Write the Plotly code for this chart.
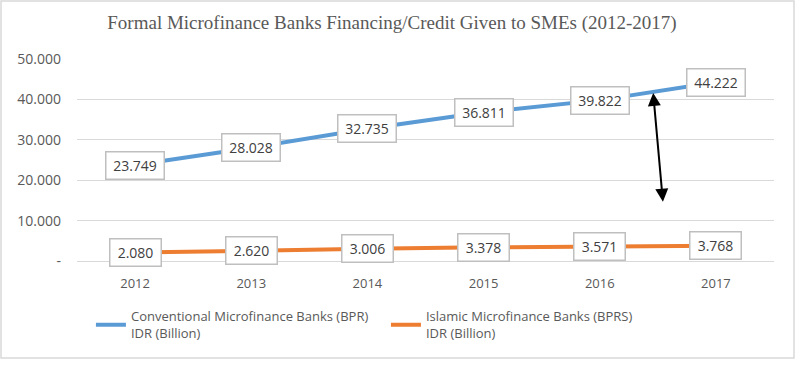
import plotly.graph_objects as go

years = ["2012", "2013", "2014", "2015", "2016", "2017"]
bpr = [23749, 28028, 32735, 36811, 39822, 44222]
bprs = [2080, 2620, 3006, 3378, 3571, 3768]
y_ticks = [0, 10000, 20000, 30000, 40000, 50000]
y_tick_text = ["-", "10.000", "20.000", "30.000", "40.000", "50.000"]
series_names = ["Conventional Microfinance Banks (BPR)<br>IDR (Billion)",
                "Islamic Microfinance Banks (BPRS)<br>IDR (Billion)"]
title = "Formal Microfinance Banks Financing/Credit Given to SMEs (2012-2017)"

xi = list(range(len(years)))

def fmt(v):
    return f"{v:,}".replace(",", ".")

fig = go.Figure()
fig.add_trace(go.Scatter(x=xi, y=bpr, mode="lines", name=series_names[0],
                         line=dict(color="#5B9BD5", width=4)))
fig.add_trace(go.Scatter(x=xi, y=bprs, mode="lines", name=series_names[1],
                         line=dict(color="#ED7D31", width=4)))

annots = []
for series in (bpr, bprs):
    for x, v in zip(xi, series):
        t = fmt(v)
        annots.append(dict(x=x, y=v, xref="x", yref="y", text=t, showarrow=False,
                           width=7 * len(t) + 9, height=20,
                           font=dict(family="Open Sans, Liberation Sans", size=14, color="#404040"),
                           bgcolor="white", bordercolor="#BFBFBF", borderwidth=1.5, borderpad=3))

# double-headed arrow between the two series
annots.append(dict(x=4.46, y=41600, ax=4.545, ay=14300, xref="x", yref="y", axref="x", ayref="y",
                   text="", showarrow=True, arrowhead=2, startarrowhead=2, arrowside="end+start",
                   arrowwidth=2, arrowsize=1.3, startarrowsize=1.3, arrowcolor="black"))

fig.update_layout(
    width=800, height=367,
    margin=dict(l=77, r=26, t=59, b=106),
    paper_bgcolor="white", plot_bgcolor="white",
    title=dict(text=title, x=0.49, xanchor="center", y=0.94, yanchor="middle",
               font=dict(family="Liberation Serif, Times New Roman", size=19, color="#595959")),
    xaxis=dict(range=[-0.5, 5.5], tickvals=xi, ticktext=years, showgrid=False, zeroline=False,
               showline=True, linecolor="#D9D9D9", linewidth=1, ticks="",
               ticklabelstandoff=10,
               tickfont=dict(family="Open Sans, Liberation Sans", size=13, color="#595959")),
    yaxis=dict(range=[0, 50000], tickvals=y_ticks, ticktext=y_tick_text, showgrid=True,
               gridcolor="#D9D9D9", gridwidth=1, zeroline=False, showline=False, ticks="",
               ticklabelstandoff=15,
               tickfont=dict(family="Open Sans, Liberation Sans", size=14, color="#595959")),
    showlegend=True,
    legend=dict(orientation="h", x=0.02, y=-0.2, xanchor="left", yanchor="top",
                entrywidth=250, entrywidthmode="pixels",
                font=dict(family="Open Sans, Liberation Sans", size=13, color="#595959")),
    annotations=annots,
    shapes=[dict(type="rect", xref="paper", yref="paper", x0=-76/697, x1=1 + 20/697,
                 y0=-97/202, y1=1 + 58/202, line=dict(color="#D9D9D9", width=1.5))],
)

fig.write_html("out.html", config={"displayModeBar": False},
               post_script="document.body.style.margin='0px';")
